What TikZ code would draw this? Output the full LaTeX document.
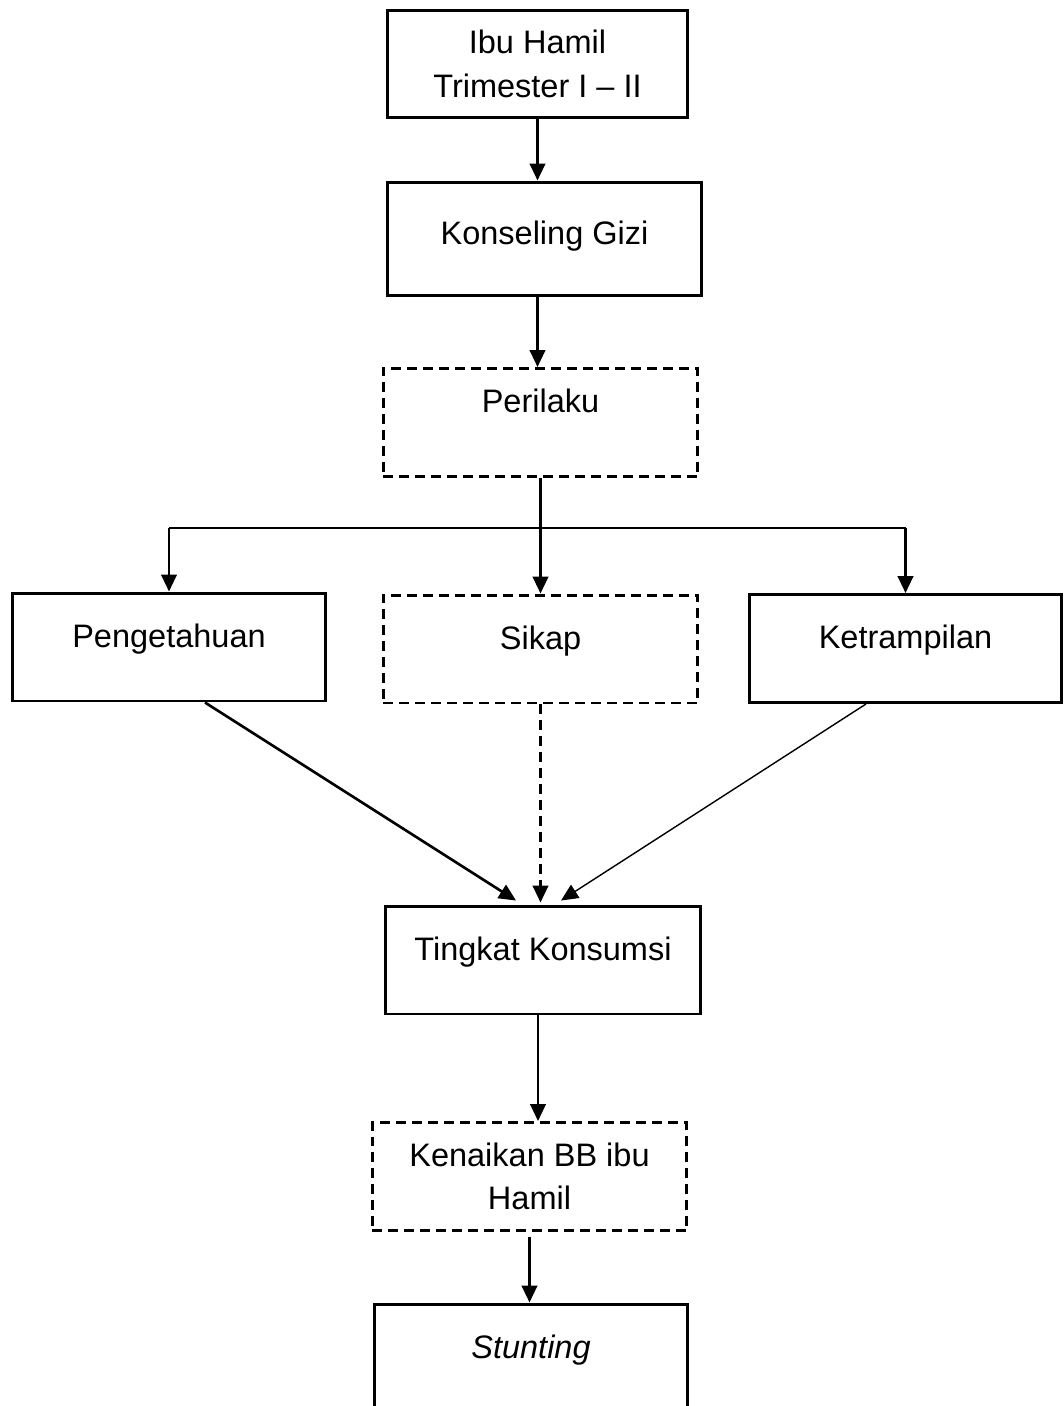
\documentclass[tikz,border=0pt]{standalone}
\usepackage{fontspec}
\setmainfont{Liberation Sans}
\usetikzlibrary{arrows.meta, positioning}
\tikzset{
  every node/.style={font=\fontsize{18.5}{24.7}\selectfont},
  solidbox/.style = {rectangle, draw=black, line width=1.7pt, inner sep=0pt,
                     align=center, minimum width=6.3cm, minimum height=2.16cm},
  dashbox/.style  = {solidbox, dash pattern=on 0.2cm off 0.12cm},
  oneline/.style  = {text height=0.47cm, text depth=#1},
  arrow/.style     = {-{Triangle[length=0.34cm,width=0.31cm]}, line width=1.5pt},
  thinarrow/.style = {arrow, line width=0.8pt},
  dasharrow/.style = {arrow, dash pattern=on 0.2cm off 0.12cm},
}
\begin{document}
\begin{tikzpicture}[x=0.02cm, y=-0.02cm]
  \clip (0,0) rectangle (1063,1406);

  % ---- top chain ----
  \node[solidbox, minimum width=6.02cm] (ibu) at (537.5,64) {Ibu Hamil\\Trimester I -- II};
  \node[solidbox, minimum height=2.28cm, oneline=0.23cm] (konseling) at (544.5,239) {Konseling Gizi};
  \node[dashbox, oneline=0.87cm] (perilaku) at (540.5,422.5) {Perilaku};

  % ---- three factors ----
  \node[solidbox, minimum width=6.28cm, oneline=0.47cm] (tahu)  at (169,647)    {Pengetahuan};
  \node[dashbox, oneline=0.47cm]                        (sikap) at (540.5,649)  {Sikap};
  \node[solidbox, minimum width=6.26cm, oneline=0.47cm] (ketr)  at (905.5,648.5) {Ketrampilan};

  % ---- outcome chain ----
  \node[solidbox, minimum width=6.32cm, oneline=0.47cm] (tingkat)  at (543,960)      {Tingkat Konsumsi};
  \node[dashbox]                                        (kenaikan) at (529.5,1176.5) {Kenaikan BB ibu\\Hamil};
  \node[solidbox, minimum width=6.28cm, oneline=0.47cm] (stunting) at (531,1358)     {\itshape Stunting};

  % ---- arrows ----
  \draw[arrow] (ibu.south) -- (ibu.south |- konseling.north);
  \draw[arrow] (ibu.south |- konseling.south) -- (ibu.south |- perilaku.north);

  \coordinate (bus) at (540.5,528);
  \draw[arrow] (perilaku.south) -- (sikap.north);
  \draw[line width=1.5pt] (tahu.north |- bus) -- (ketr.north |- bus);
  \draw[arrow] (tahu.north |- bus) -- (tahu.north);
  \draw[arrow] (ketr.north |- bus) -- (ketr.north);

  \draw[arrow] ([xshift=0.72cm]tahu.south) -- ([xshift=-0.54cm, yshift=0.08cm]tingkat.north);
  \draw[dasharrow] (sikap.south) -- ([yshift=0.04cm]sikap.south |- tingkat.north);
  \draw[thinarrow] ([xshift=-0.79cm]ketr.south) -- ([xshift=0.36cm, yshift=0.08cm]tingkat.north);

  \draw[arrow] ([xshift=-0.1cm]tingkat.south) -- ([xshift=-0.1cm]tingkat.south |- kenaikan.north);
  \draw[arrow] ([yshift=-0.1cm]kenaikan.south) -- (kenaikan.south |- stunting.north);
\end{tikzpicture}
\end{document}
